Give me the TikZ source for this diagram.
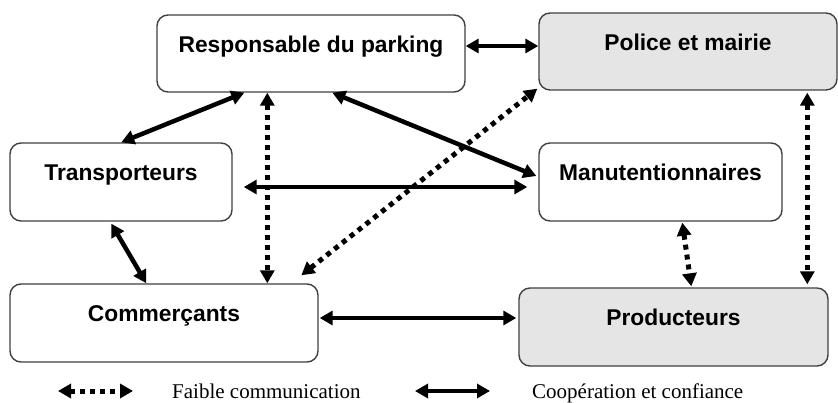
\documentclass[tikz,border=0pt]{standalone}
\usepackage{fontspec}
\setmainfont{Liberation Serif}
\newfontfamily\boxfont{Liberation Sans}
\usetikzlibrary{arrows.meta,calc}

\begin{document}
\begin{tikzpicture}[x=1pt,y=-1pt,
  actor/.style={draw=black!75, line width=1.4pt, rounded corners=11pt,
                fill=white, inner sep=0pt},
  official/.style={actor, fill=black!10},
  title/.style={font=\boxfont\bfseries\fontsize{22.8}{27}\selectfont,
                anchor=base, inner sep=0pt},
  legtext/.style={font=\fontsize{21}{25}\selectfont, anchor=base west, inner sep=0pt},
  coop/.style={line width=4.5pt, {Triangle[length=13pt,width=14pt]}-{Triangle[length=13pt,width=14pt]}},
  weak/.style={line width=5pt, dash pattern=on 5pt off 5pt,
               {Triangle[length=13pt,width=14pt]}-{Triangle[length=13pt,width=14pt]}}
]
\useasboundingbox (0,0) rectangle (838,403);

% actors
\node[actor,    minimum width=308pt, minimum height=77pt] (resp)   at (311,53.5)  {};
\node[official, minimum width=298pt, minimum height=77pt] (police) at (688,51.5)  {};
\node[actor,    minimum width=222pt, minimum height=78pt] (trans)  at (121,182)   {};
\node[actor,    minimum width=243pt, minimum height=78pt] (manu)   at (660.5,182) {};
\node[actor,    minimum width=308pt, minimum height=78pt] (comm)   at (164,323)   {};
\node[official, minimum width=309pt, minimum height=78pt] (prod)   at (673.5,327) {};

% actor names
\node[title] (resp-t)   at ($(resp.north)+(0,38.5)$)   {Responsable du parking};
\node[title] (police-t) at ($(police.north)+(0,38.5)$) {Police et mairie};
\node[title] (trans-t)  at ($(trans.north)+(0,38.5)$)  {Transporteurs};
\node[title] (manu-t)   at ($(manu.north)+(0,38.5)$)   {Manutentionnaires};
\node[title] (comm-t)   at ($(comm.north)+(0,38.5)$)   {Commerçants};
\node[title] (prod-t)   at ($(prod.north)+(0,38.5)$)   {Producteurs};

% cooperation and trust
\draw[coop] ($(resp.east)+(0,-7.5)$) -- ($(police.west)+(0,-5.5)$);
\draw[coop] ($(trans.north west)+(112,0)$) -- ($(resp.south west)+(88,0)$);
\draw[coop] ($(resp.south west)+(176,0)$) -- ($(manu.west)+(-2,-6)$);
\draw[coop] ($(trans.east)+(11,5)$) -- ($(manu.west)+(-11,5)$);
\draw[coop] ($(trans.south west)+(102,2)$) -- ($(comm.north west)+(137,0)$);
\draw[coop] ($(comm.east)+(1,-5)$) -- ($(prod.west)+(-2,-9)$);

% weak communication
\draw[weak] ($(resp.south west)+(111,0)$) -- ($(comm.north west)+(258,0)$);
\draw[weak] ($(comm.north west)+(292,-8)$) -- ($(police.south west)+(-1,-2)$);
\draw[weak] ($(manu.south west)+(144,1)$) -- ($(prod.north west)+(173,-1)$);
\draw[weak] ($(police.south west)+(269,2)$) -- ($(prod.north west)+(289,-3)$);

% legend
\coordinate (wa) at (58,391);
\coordinate (wb) at (133,391);
\coordinate (ca) at (415,391);
\coordinate (cb) at (490,391);
\draw[weak] (wa) -- (wb);
\draw[coop] (ca) -- (cb);
\node[legtext] (weak-t) at (172,398) {Faible communication};
\node[legtext] (coop-t) at (532,398) {Coopération et confiance};
\end{tikzpicture}
\end{document}
